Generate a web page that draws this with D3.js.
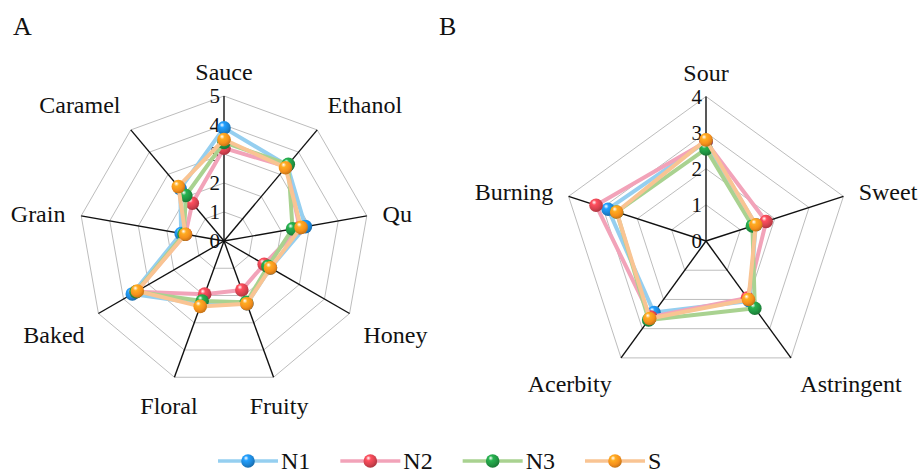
<!DOCTYPE html>
<html>
<head>
<meta charset="utf-8">
<script src="https://cdn.jsdelivr.net/npm/d3@7"></script>
<style>
  html, body { margin: 0; padding: 0; background: #fff; }
  svg { display: block; font-family: "Liberation Serif", "Times New Roman", serif; }
</style>
</head>
<body>
<svg id="chart" width="921" height="474"></svg>
<script>
// Aroma attributes (panel A)
const aromaAxes = ["Sauce", "Ethanol", "Qu", "Honey", "Fruity", "Floral", "Baked", "Grain", "Caramel"];
const aromaTicks = [0, 1, 2, 3, 4, 5];
const aromaN1 = [3.9, 3.4, 2.85, 1.85, 2.3, 2.3, 3.65, 1.5, 2.35];
const aromaN2 = [3.2, 3.35, 2.65, 1.6, 1.8, 1.95, 3.5, 1.35, 1.7];
const aromaN3 = [3.4, 3.45, 2.4, 1.75, 2.25, 2.2, 3.5, 1.4, 2.05];
const aromaS  = [3.5, 3.3, 2.7, 1.85, 2.3, 2.4, 3.45, 1.35, 2.45];

// Taste attributes (panel B)
const tasteAxes = ["Sour", "Sweet", "Astringent", "Acerbity", "Burning"];
const tasteTicks = [0, 1, 2, 3, 4];
const tasteN1 = [2.75, 1.45, 2.05, 2.45, 2.85];
const tasteN2 = [2.75, 1.75, 1.95, 2.6, 3.2];
const tasteN3 = [2.55, 1.35, 2.3, 2.7, 2.6];
const tasteS  = [2.8, 1.45, 2.0, 2.65, 2.6];

const seriesNames = ["N1", "N2", "N3", "S"];
const lineColors = ["#95cff0", "#f2a3b9", "#a9d290", "#f9c493"];
const dotColors  = ["#1d86d6", "#d7424f", "#219643", "#f5901c"];

const svg = d3.select("#chart");
const defs = svg.append("defs");

// Glossy ball fill for each series marker
dotColors.forEach((c, i) => {
  const g = defs.append("radialGradient")
    .attr("id", "ball" + i)
    .attr("cx", "40%").attr("cy", "35%").attr("r", "65%")
    .attr("fx", "35%").attr("fy", "28%");
  g.append("stop").attr("offset", "0%").attr("stop-color", "#ffffff");
  g.append("stop").attr("offset", "28%").attr("stop-color", d3.color(c).brighter(0.5));
  g.append("stop").attr("offset", "70%").attr("stop-color", c);
  g.append("stop").attr("offset", "100%").attr("stop-color", d3.color(c).darker(0.6));
});

function radar(opts) {
  const { cx, cy, R, axes, ticks, series } = opts;
  const g = svg.append("g").attr("transform", `translate(${cx},${cy})`);
  const maxV = d3.max(ticks);
  const r = d3.scaleLinear().domain([0, maxV]).range([0, R]);
  const ang = d3.scaleLinear().domain([0, axes.length]).range([0, 2 * Math.PI]);

  const ring = d3.lineRadial()
    .angle((d, i) => ang(i))
    .radius(d => r(d))
    .curve(d3.curveLinearClosed);

  // grid rings
  g.selectAll("path.ring")
    .data(ticks.filter(t => t > 0))
    .join("path")
    .attr("class", "ring")
    .attr("d", t => ring(axes.map(() => t)))
    .attr("fill", "none")
    .attr("stroke", "#bdbdbd")
    .attr("stroke-width", 1);

  // spokes
  g.selectAll("line.spoke")
    .data(axes)
    .join("line")
    .attr("class", "spoke")
    .attr("x1", 0).attr("y1", 0)
    .attr("x2", (d, i) => r(maxV) * Math.sin(ang(i)))
    .attr("y2", (d, i) => -r(maxV) * Math.cos(ang(i)))
    .attr("stroke", "#111")
    .attr("stroke-width", 1.4);

  // value labels along the first spoke
  g.selectAll("text.tick")
    .data(ticks)
    .join("text")
    .attr("class", "tick")
    .attr("x", -4)
    .attr("y", t => -r(t) + 7)
    .attr("text-anchor", "end")
    .attr("font-size", 21)
    .attr("fill", "#111")
    .text(t => t);

  // category labels outside the grid
  g.selectAll("text.axis")
    .data(axes)
    .join("text")
    .attr("class", "axis")
    .each(function (d, i) {
      const a = ang(i);
      const s = Math.sin(a), c = Math.cos(a);
      const rr = R + 16;
      const x = rr * s, y = -rr * c;
      const anchor = Math.abs(s) < 0.35 ? "middle" : (s > 0 ? "start" : "end");
      let dy;
      if (c > 0.9) dy = 0;
      else if (c > 0.5) dy = -5;
      else if (c > 0) dy = 8.5;
      else dy = 21.5;
      d3.select(this)
        .attr("x", x)
        .attr("y", y + dy)
        .attr("text-anchor", anchor);
    })
    .attr("font-size", 24)
    .attr("fill", "#111")
    .text(d => d);

  // data series
  series.forEach((vals, si) => {
    const sg = g.append("g");
    sg.append("path")
      .attr("d", ring(vals))
      .attr("fill", "none")
      .attr("stroke", lineColors[si])
      .attr("stroke-width", 4)
      .attr("stroke-linejoin", "round");
    sg.selectAll("circle")
      .data(vals)
      .join("circle")
      .attr("cx", (v, i) => r(v) * Math.sin(ang(i)))
      .attr("cy", (v, i) => -r(v) * Math.cos(ang(i)))
      .attr("r", 6.8)
      .attr("fill", `url(#ball${si})`);
  });
}

radar({
  cx: 224, cy: 241, R: 145,
  axes: aromaAxes, ticks: aromaTicks,
  series: [aromaN1, aromaN2, aromaN3, aromaS]
});

radar({
  cx: 706, cy: 241, R: 144.5,
  axes: tasteAxes, ticks: tasteTicks,
  series: [tasteN1, tasteN2, tasteN3, tasteS]
});

// panel letters
svg.append("text").attr("x", 13).attr("y", 35).attr("font-size", 26).attr("fill", "#111").text("A");
svg.append("text").attr("x", 439).attr("y", 35).attr("font-size", 26).attr("fill", "#111").text("B");

// legend
const legendX = d3.scalePoint().domain(seriesNames).range([218, 585]);
const leg = svg.append("g").attr("transform", "translate(0,461)");
const items = leg.selectAll("g.item")
  .data(seriesNames)
  .join("g")
  .attr("class", "item")
  .attr("transform", d => `translate(${legendX(d)},0)`);
items.append("line")
  .attr("x1", 0).attr("x2", 60).attr("y1", 0).attr("y2", 0)
  .attr("stroke", (d, i) => lineColors[i])
  .attr("stroke-width", 3.5);
items.append("circle")
  .attr("cx", 30).attr("cy", 0).attr("r", 6.8)
  .attr("fill", (d, i) => `url(#ball${i})`);
items.append("text")
  .attr("x", 63).attr("y", 7.5)
  .attr("font-size", 24)
  .attr("fill", "#111")
  .text(d => d);
</script>
</body>
</html>
